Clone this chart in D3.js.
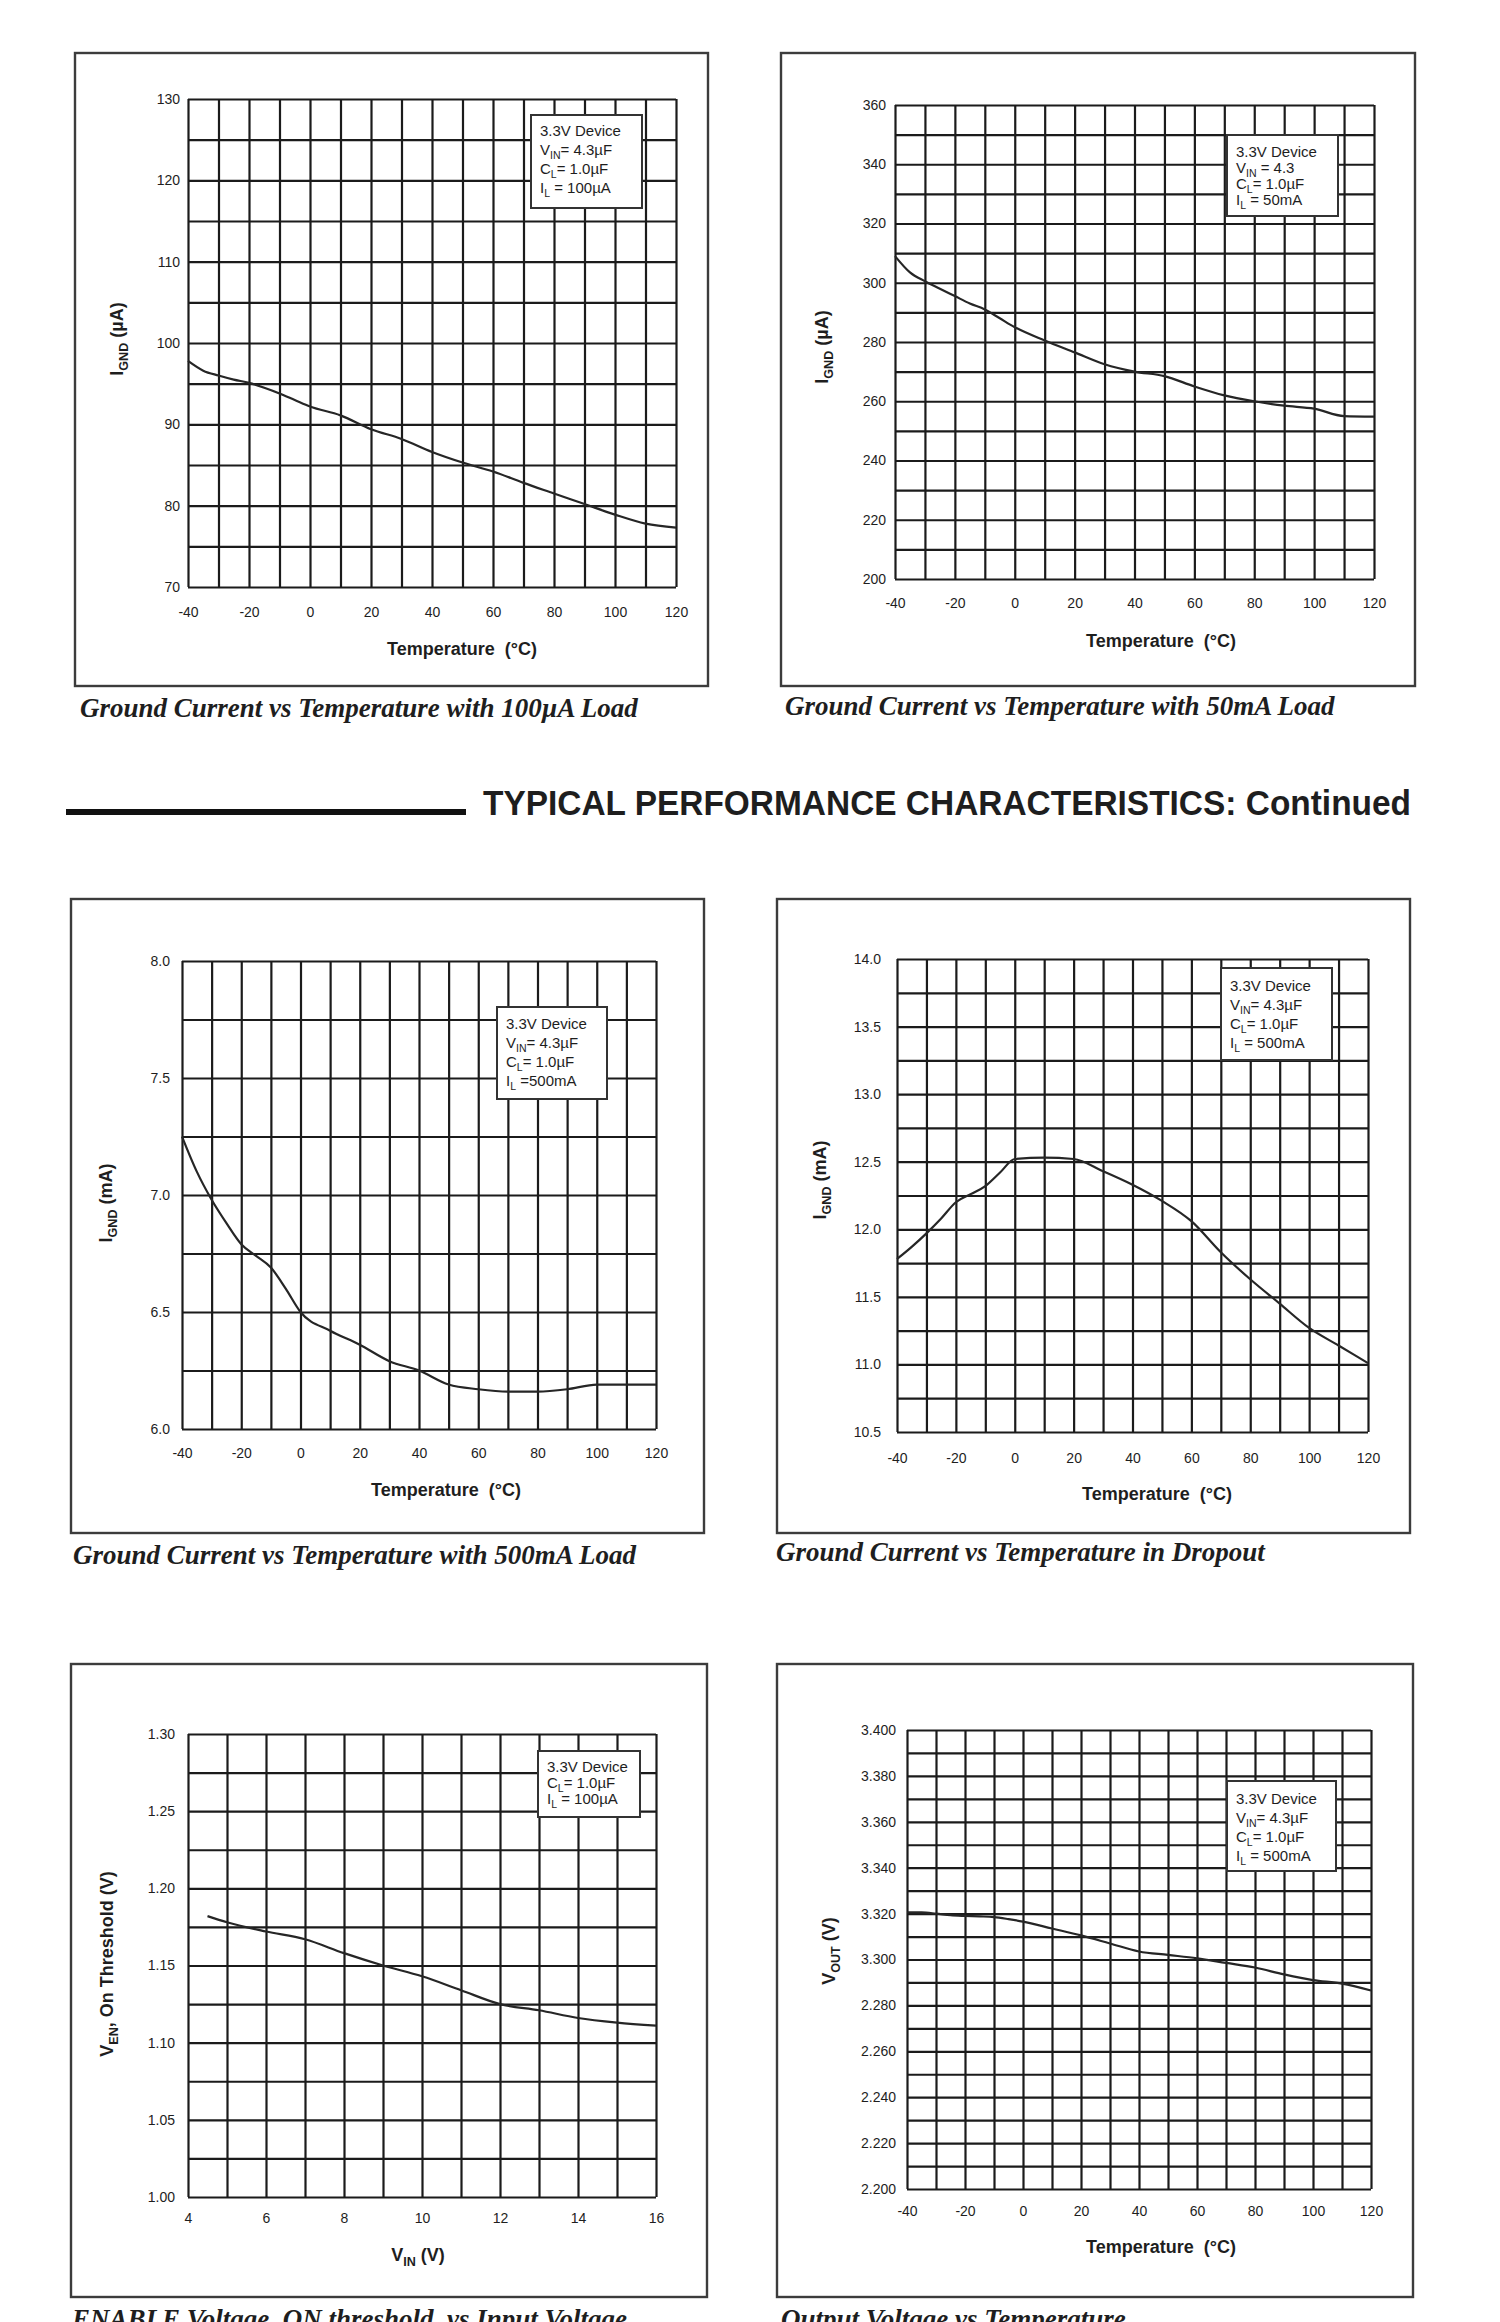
<!DOCTYPE html>
<html>
<head>
<meta charset="utf-8">
<script src="https://cdn.jsdelivr.net/npm/d3@7"></script>
<style>
  body { margin: 0; background: #fff; }
  svg text { font-family: "Liberation Sans", Arial, sans-serif; fill: #1e1e1e; }
  .cap { font-family: "Liberation Serif", "Times New Roman", serif; font-style: italic; font-weight: bold; font-size: 27px; }
  .grid line { stroke: #1b1b1b; stroke-width: 2.2px; }
</style>
</head>
<body>
<svg id="page" width="1500" height="2322"></svg>
<script>
// values
const tempC = [-40,-35,-30,-25,-20,-15,-10,-5,0,10,20,30,40,50,60,70,80,90,100,110,120];
const ignd100uA = [97.8,96.6,96.0,95.5,95.1,94.5,93.8,93.0,92.2,91.1,89.4,88.2,86.6,85.3,84.2,82.8,81.5,80.2,78.9,77.8,77.3];
const ignd50mA = [309,303.5,300.5,298,295.5,293,291,288,285,280.5,276.5,272.5,270,268.5,265,262,260,258.5,257.5,255,254.8];
const ignd500mA = [7.25,7.1,6.98,6.88,6.79,6.74,6.69,6.6,6.5,6.42,6.36,6.29,6.25,6.19,6.17,6.16,6.16,6.17,6.19,6.19,6.19];
const igndDropout = [11.78,11.87,11.97,12.08,12.2,12.26,12.32,12.42,12.52,12.53,12.52,12.43,12.33,12.21,12.06,11.83,11.63,11.45,11.27,11.14,11.01];
const vinV = [4.5,5,6,7,8,9,10,11,12,13,14,15,16];
const venOn = [1.182,1.178,1.172,1.167,1.158,1.150,1.143,1.134,1.125,1.121,1.116,1.113,1.111];
const vout500mA = [3.3205,3.3205,3.3200,3.3193,3.3190,3.3188,3.3185,3.3176,3.3165,3.3135,3.3105,3.307,3.3035,3.302,3.3005,3.2985,3.2965,3.2935,3.291,3.2895,3.2865];

// tick values and labels
const tempTicks = [-40,-20,0,20,40,60,80,100,120];
const vinTicks = [4,6,8,10,12,14,16];
const ticks100uA = [70,80,90,100,110,120,130];
const ticks50mA = [200,220,240,260,280,300,320,340,360];
const ticks500mA = [6.0,6.5,7.0,7.5,8.0];
const ticksDropout = [10.5,11.0,11.5,12.0,12.5,13.0,13.5,14.0];
const ticksVen = [1.00,1.05,1.10,1.15,1.20,1.25,1.30];
const ticksVout = [3.20,3.22,3.24,3.26,3.28,3.30,3.32,3.34,3.36,3.38,3.40];
const labelsVout = ["2.200","2.220","2.240","2.260","2.280","3.300","3.320","3.340","3.360","3.380","3.400"];

// legend texts and captions
const legend100uA = ["3.3V Device","V_{IN}= 4.3µF","C_{L}= 1.0µF","I_{L} = 100µA"];
const legend50mA = ["3.3V Device","V_{IN} = 4.3","C_{L}= 1.0µF","I_{L} = 50mA"];
const legend500mA = ["3.3V Device","V_{IN}= 4.3µF","C_{L}= 1.0µF","I_{L} =500mA"];
const legendDropout = ["3.3V Device","V_{IN}= 4.3µF","C_{L}= 1.0µF","I_{L} = 500mA"];
const legendVen = ["3.3V Device","C_{L}= 1.0µF","I_{L} = 100µA"];
const legendVout = ["3.3V Device","V_{IN}= 4.3µF","C_{L}= 1.0µF","I_{L} = 500mA"];
const captions = [
  "Ground Current vs Temperature with 100µA Load",
  "Ground Current vs Temperature with 50mA Load",
  "Ground Current vs Temperature with 500mA Load",
  "Ground Current vs Temperature in Dropout",
  "ENABLE Voltage, ON threshold, vs Input Voltage",
  "Output Voltage vs Temperature"
];

const svg = d3.select("#page");

// text with V_{IN} style subscripts
function rich(sel, str, fs) {
  const parts = str.split(/(_\{[^}]*\})/).filter(s => s.length);
  let down = false;
  parts.forEach(s => {
    const t = sel.append("tspan");
    if (s.startsWith("_{")) {
      t.text(s.slice(2, -1)).attr("font-size", fs * 0.7).attr("dy", fs * 0.28);
      down = true;
    } else {
      t.text(s);
      if (down) { t.attr("dy", -fs * 0.28); down = false; }
    }
  });
  return sel;
}

const steps = (d, s) => d3.range(Math.round((d[1] - d[0]) / s) + 1).map(i => d[0] + i * s);
const plain = d => String(d);   // keeps the hyphen minus of the scan

const panels = [
  { box:[75,53,708,686], plot:[188,99,676,587], xs:tempC, ys:ignd100uA,
    xDomain:[-40,120], xGrid:10, xTicks:tempTicks, yDomain:[70,130], yGrid:5,
    yTicks:ticks100uA, yFmt:plain, yPad:8, xPad:20,
    xTitle:"Temperature  (°C)", xT:[462,649], yTitle:"I_{GND} (µA)", yT:[117,339],
    legend:legend100uA, leg:[531,115,642,208], legY0:136, legDy:19, cap:[80,717] },
  { box:[781,53,1415,686], plot:[895,105,1374,579], xs:tempC, ys:ignd50mA,
    xDomain:[-40,120], xGrid:10, xTicks:tempTicks, yDomain:[200,360], yGrid:10,
    yTicks:ticks50mA, yFmt:plain, yPad:9, xPad:19,
    xTitle:"Temperature  (°C)", xT:[1161,641], yTitle:"I_{GND} (µA)", yT:[822,347],
    legend:legend50mA, leg:[1227,135,1338,216], legY0:157, legDy:16, cap:[785,715] },
  { box:[71,899,704,1533], plot:[182,961,656,1429], xs:tempC, ys:ignd500mA,
    xDomain:[-40,120], xGrid:10, xTicks:tempTicks, yDomain:[6,8], yGrid:0.25,
    yTicks:ticks500mA, yFmt:d3.format(".1f"), yPad:12, xPad:19,
    xTitle:"Temperature  (°C)", xT:[446,1490], yTitle:"I_{GND} (mA)", yT:[106,1203],
    legend:legend500mA, leg:[497,1007,607,1099], legY0:1029, legDy:19, cap:[73,1564] },
  { box:[777,899,1410,1533], plot:[897,959,1368,1432], xs:tempC, ys:igndDropout,
    xDomain:[-40,120], xGrid:10, xTicks:tempTicks, yDomain:[10.5,14], yGrid:0.25,
    yTicks:ticksDropout, yFmt:d3.format(".1f"), yPad:16, xPad:21,
    xTitle:"Temperature  (°C)", xT:[1157,1494], yTitle:"I_{GND} (mA)", yT:[820,1180],
    legend:legendDropout, leg:[1221,968,1332,1060], legY0:991, legDy:19, cap:[776,1561] },
  { box:[71,1664,707,2297], plot:[188,1734,656,2197], xs:vinV, ys:venOn,
    xDomain:[4,16], xGrid:1, xTicks:vinTicks, yDomain:[1.0,1.3], yGrid:0.025,
    yTicks:ticksVen, yFmt:d3.format(".2f"), yPad:13, xPad:16,
    xTitle:"V_{IN} (V)", xT:[418,2255], yTitle:"V_{EN}, On Threshold (V)", yT:[107,1964],
    legend:legendVen, leg:[538,1751,640,1817], legY0:1772, legDy:16, cap:[72,2328] },
  { box:[777,1664,1413,2297], plot:[907,1730,1371,2189], xs:tempC, ys:vout500mA,
    xDomain:[-40,120], xGrid:10, xTicks:tempTicks, yDomain:[3.2,3.4], yGrid:0.01,
    yTicks:ticksVout, yFmt:(d,i) => labelsVout[i], yPad:11, xPad:17,
    xTitle:"Temperature  (°C)", xT:[1161,2247], yTitle:"V_{OUT} (V)", yT:[829,1951],
    legend:legendVout, leg:[1227,1781,1336,1871], legY0:1804, legDy:19, cap:[781,2328] }
];

panels.forEach((p, k) => {
  const [bx0, by0, bx1, by1] = p.box, [px0, py0, px1, py1] = p.plot;
  const g = svg.append("g");

  g.append("rect")
    .attr("x", bx0).attr("y", by0).attr("width", bx1 - bx0).attr("height", by1 - by0)
    .attr("fill", "none").attr("stroke", "#3c3c3c").attr("stroke-width", 2.4);

  const x = d3.scaleLinear().domain(p.xDomain).range([px0, px1]);
  const y = d3.scaleLinear().domain(p.yDomain).range([py1, py0]);

  // grid (outer lines double as plot frame)
  g.append("g").attr("class", "grid").attr("transform", `translate(0,${py1})`)
    .call(d3.axisBottom(x).tickValues(steps(p.xDomain, p.xGrid)).tickSize(-(py1 - py0)).tickFormat(""))
    .call(s => s.select(".domain").remove());
  g.append("g").attr("class", "grid").attr("transform", `translate(${px0},0)`)
    .call(d3.axisLeft(y).tickValues(steps(p.yDomain, p.yGrid)).tickSize(-(px1 - px0)).tickFormat(""))
    .call(s => s.select(".domain").remove());

  // tick labels
  g.append("g").attr("transform", `translate(0,${py1})`)
    .call(d3.axisBottom(x).tickValues(p.xTicks).tickSize(0).tickPadding(p.xPad).tickFormat(plain))
    .call(s => s.select(".domain").remove())
    .attr("font-family", null).attr("font-size", null)
    .selectAll("text").style("font-size", "14px");
  g.append("g").attr("transform", `translate(${px0},0)`)
    .call(d3.axisLeft(y).tickValues(p.yTicks).tickSize(0).tickPadding(p.yPad).tickFormat(p.yFmt))
    .call(s => s.select(".domain").remove())
    .attr("font-family", null).attr("font-size", null)
    .selectAll("text").style("font-size", "14px");

  // curve
  const line = d3.line().x(d => x(d[0])).y(d => y(d[1])).curve(d3.curveMonotoneX);
  g.append("path").datum(d3.zip(p.xs, p.ys))
    .attr("d", line).attr("fill", "none").attr("stroke", "#262626").attr("stroke-width", 2.2);

  // legend box
  const [lx0, ly0, lx1, ly1] = p.leg;
  g.append("rect").attr("x", lx0).attr("y", ly0).attr("width", lx1 - lx0).attr("height", ly1 - ly0)
    .attr("fill", "#fff").attr("stroke", "#333").attr("stroke-width", 2);
  p.legend.forEach((s, i) => {
    rich(g.append("text").attr("x", lx0 + 9).attr("y", p.legY0 + i * p.legDy).style("font-size", "15px"), s, 15);
  });

  // axis titles
  rich(g.append("text").attr("x", p.xT[0]).attr("y", p.xT[1]).attr("dy", "0.35em")
    .attr("text-anchor", "middle").style("font-size", "18px").style("font-weight", "bold")
    .style("white-space", "pre"), p.xTitle, 18);
  rich(g.append("text").attr("transform", `translate(${p.yT[0]},${p.yT[1]}) rotate(-90)`)
    .attr("dy", "0.35em").attr("text-anchor", "middle")
    .style("font-size", "18px").style("font-weight", "bold"), p.yTitle, 18);

  // caption
  g.append("text").attr("class", "cap").attr("x", p.cap[0]).attr("y", p.cap[1]).text(captions[k]);
});

// section heading
svg.append("line").attr("x1", 66).attr("x2", 466).attr("y1", 812).attr("y2", 812)
  .attr("stroke", "#111").attr("stroke-width", 6);
svg.append("text").attr("x", 483).attr("y", 815)
  .attr("textLength", 928).attr("lengthAdjust", "spacingAndGlyphs")
  .style("font-size", "35px").style("font-weight", "bold")
  .text("TYPICAL PERFORMANCE CHARACTERISTICS: Continued");
</script>
</body>
</html>
